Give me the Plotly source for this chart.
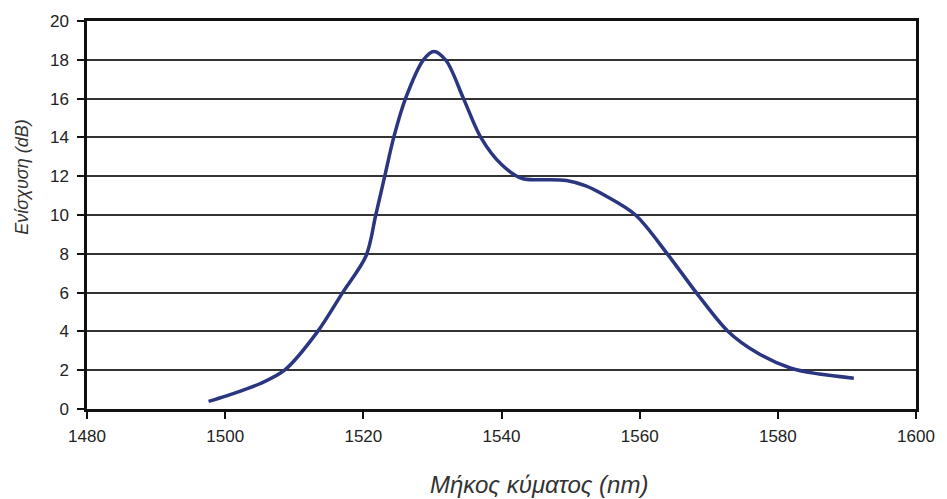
import plotly.graph_objects as go

# Gain spectrum of the amplifier
wavelength_nm = [1497.6, 1502, 1505, 1508.6, 1513.4, 1517.0, 1520.4, 1521.8, 1523.1,
                 1524.4, 1526.1, 1528.7, 1530.2, 1532.0, 1534.5, 1537.0, 1540.0,
                 1543, 1546, 1549.4, 1552.2, 1555, 1559.4, 1564.0, 1568.3,
                 1572.8, 1577, 1581.9, 1586, 1591.0]
gain_db = [0.39, 0.9, 1.3, 2.0, 4.0, 6.0, 7.9, 10.0, 12.0,
           14.0, 16.0, 18.0, 18.43, 17.95, 16.0, 14.0, 12.6,
           11.88, 11.82, 11.78, 11.5, 11.0, 10.0, 8.0, 5.95,
           4.0, 2.9, 2.1, 1.8, 1.59]

x_ticks = [1480, 1500, 1520, 1540, 1560, 1580, 1600]
y_ticks = [0, 2, 4, 6, 8, 10, 12, 14, 16, 18, 20]

x_title = "Μήκος κύματος (nm)"
y_title = "Ενίσχυση (dB)"

fig = go.Figure()
fig.add_trace(go.Scatter(
    x=wavelength_nm, y=gain_db, mode="lines",
    line=dict(color="#2B3680", width=3.5, shape="spline", smoothing=0.9),
    showlegend=False, hoverinfo="skip",
))

axis_font = dict(family="Liberation Sans, Arial, sans-serif", size=17, color="#222222")

fig.update_layout(
    width=947, height=499,
    margin=dict(l=87, r=24, t=19, b=90),
    paper_bgcolor="white", plot_bgcolor="white",
    xaxis=dict(
        range=[1480, 1600], tickvals=x_ticks, ticktext=[str(v) for v in x_ticks],
        showgrid=False, zeroline=False,
        showline=True, linecolor="#111111", linewidth=2.5, mirror=True,
        ticks="outside", ticklen=7, tickwidth=1.5, tickcolor="#111111",
        tickfont=axis_font, ticklabelstandoff=3,
    ),
    yaxis=dict(
        range=[0, 20], tickvals=y_ticks, ticktext=[str(v) for v in y_ticks],
        showgrid=True, gridcolor="#333333", gridwidth=2, zeroline=False,
        showline=True, linecolor="#111111", linewidth=2.5, mirror=True,
        ticks="outside", ticklen=7, tickwidth=1.5, tickcolor="#111111",
        tickfont=axis_font, ticklabelstandoff=5,
    ),
)

# Axis titles positioned in page pixels, converted to paper coordinates
plot_w = 947 - 87 - 24
plot_h = 499 - 19 - 90


def to_paper(px, py):
    return (px - 87) / plot_w, (499 - 90 - py) / plot_h


tx, ty = to_paper(543, 485)
fig.add_annotation(text=x_title, x=tx, y=ty, xref="paper", yref="paper",
                   xanchor="center", yanchor="middle", showarrow=False,
                   font=dict(family="Liberation Sans, Arial, sans-serif",
                             size=24, color="#333333", style="italic"))
tx, ty = to_paper(22, 176)
fig.add_annotation(text=y_title, x=tx, y=ty, xref="paper", yref="paper",
                   xanchor="center", yanchor="middle", textangle=-90, showarrow=False,
                   font=dict(family="Liberation Sans, Arial, sans-serif",
                             size=18, color="#333333", style="italic"))

fig.write_html("out.html")
